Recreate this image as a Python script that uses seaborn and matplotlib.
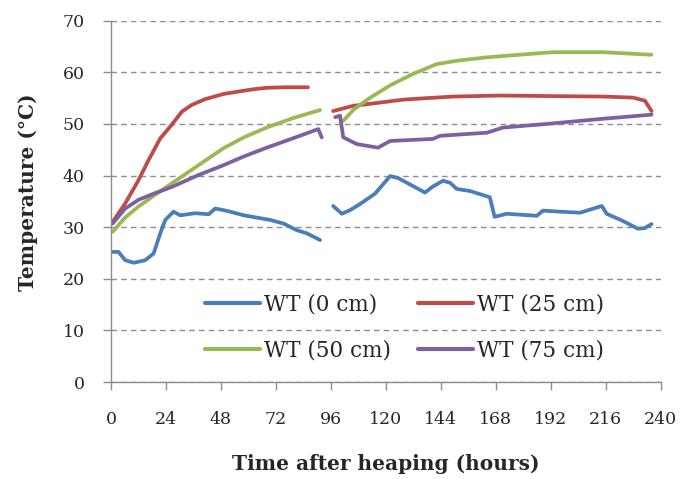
import matplotlib
matplotlib.use("Agg")
import matplotlib.pyplot as plt
import numpy as np
import pandas as pd
import seaborn as sns

# ---------------- data ----------------
series_names = ["WT (0 cm)", "WT (25 cm)", "WT (50 cm)", "WT (75 cm)"]
colors = ["#4A7EBB", "#BE4B48", "#98B954", "#7D60A0"]

# WT (0 cm)
wt0_h1 = [0.5, 3.3, 6.2, 9.9, 15, 18.6, 21.5, 23.7, 27.3, 30.2, 36.8, 42.6, 45.5, 49.1, 52, 57.9, 63, 69.5, 75.3, 81.2, 85.5, 91.3]
wt0_t1 = [25.2, 25.2, 23.6, 23.1, 23.6, 24.9, 28.8, 31.4, 33.0, 32.3, 32.7, 32.5, 33.6, 33.3, 33.0, 32.3, 31.9, 31.4, 30.7, 29.4, 28.8, 27.5]
wt0_h2 = [97, 100.8, 104.4, 108.8, 115.3, 121.9, 125.4, 129.2, 137.1, 140.6, 145, 148, 151, 156.8, 163.2, 165.4, 167.5, 172.8, 185.9, 188.6, 196, 204.8, 214.3, 216.4, 223.5, 230, 233, 236]
wt0_t2 = [34.1, 32.6, 33.3, 34.5, 36.5, 39.9, 39.5, 38.6, 36.7, 37.9, 39.0, 38.6, 37.4, 37.0, 36.1, 35.8, 32.0, 32.6, 32.2, 33.2, 33.0, 32.8, 34.1, 32.6, 31.2, 29.7, 29.8, 30.6]

# WT (25 cm)
wt25_h1 = [0.7, 6.2, 12, 16.4, 21.5, 25.9, 31, 35.3, 41.1, 49.1, 56, 62, 68, 76, 86]
wt25_t1 = [31.0, 34.6, 39.1, 43.0, 47.2, 49.5, 52.4, 53.7, 54.8, 55.8, 56.3, 56.7, 57.0, 57.1, 57.1]
wt25_h2 = [97, 105.7, 115, 127.5, 138, 149.4, 170, 190, 214.8, 227.9, 233.1, 236]
wt25_t2 = [52.5, 53.5, 54.0, 54.7, 55.0, 55.3, 55.5, 55.4, 55.3, 55.1, 54.5, 52.5]

# WT (50 cm)
wt50_h1 = [0.7, 6, 12, 19, 26.6, 38.2, 49.1, 58, 68, 80, 91.3]
wt50_t1 = [29.1, 31.8, 34.0, 36.2, 38.5, 42.0, 45.3, 47.4, 49.3, 51.2, 52.7]
wt50_h2 = [101.4, 106, 113.2, 122, 131.9, 142.3, 152, 164.1, 178, 193, 214.8, 236]
wt50_t2 = [50.6, 52.8, 55.1, 57.5, 59.7, 61.6, 62.3, 62.9, 63.4, 63.9, 63.9, 63.4]

# WT (75 cm)
wt75_h1 = [0.7, 6.2, 12, 19.3, 26.6, 38.2, 49.1, 58, 68, 80, 90.5, 92]
wt75_t1 = [30.7, 33.6, 35.3, 36.6, 37.8, 40.1, 42.0, 43.7, 45.4, 47.3, 49.0, 47.4]
wt75_h2 = [97.9, 100, 101.4, 107.3, 116.6, 121.9, 140.6, 143.7, 164.1, 171.2, 190.3, 214.8, 230.9, 236]
wt75_t2 = [51.3, 51.6, 47.4, 46.1, 45.4, 46.7, 47.1, 47.7, 48.3, 49.3, 50.0, 51.0, 51.6, 51.8]

x_ticks = list(range(0, 241, 24))
y_ticks = list(range(0, 71, 10))

segments = [
    (series_names[0], 1, wt0_h1, wt0_t1), (series_names[0], 2, wt0_h2, wt0_t2),
    (series_names[1], 1, wt25_h1, wt25_t1), (series_names[1], 2, wt25_h2, wt25_t2),
    (series_names[2], 1, wt50_h1, wt50_t1), (series_names[2], 2, wt50_h2, wt50_t2),
    (series_names[3], 1, wt75_h1, wt75_t1), (series_names[3], 2, wt75_h2, wt75_t2),
]
rows = []
for name, seg, hs, ts in segments:
    for h, t in zip(hs, ts):
        rows.append({"series": name, "segment": seg, "hours": h, "temp": t})
df = pd.DataFrame(rows)

# ---------------- plotting ----------------
sns.set_style("white")
plt.rcParams['font.family'] = ['DejaVu Serif', 'Liberation Serif']

fig = plt.figure(figsize=(6.84, 4.79), dpi=100)
ax = fig.add_axes([0.1623, 0.2025, 0.8036, 0.7543])

sns.lineplot(data=df, x="hours", y="temp", hue="series", hue_order=series_names,
             units="segment", estimator=None, sort=False,
             palette=colors, linewidth=2.7, ax=ax)

ax.set_xlim(0, 240)
ax.set_ylim(0, 70)
ax.set_xticks(x_ticks)
ax.set_yticks(y_ticks)

grey = "#8C8C8C"
ax.set_axisbelow(True)
ax.yaxis.grid(True, linestyle=(0, (4, 3)), color=grey, linewidth=1.0)
ax.xaxis.grid(False)
for s in ["top", "right"]:
    ax.spines[s].set_visible(False)
for s in ["left", "bottom"]:
    ax.spines[s].set_color(grey)
    ax.spines[s].set_linewidth(1.0)

ax.tick_params(axis="x", direction="out", length=6, color=grey, width=1,
               labelsize=12.5, pad=15, bottom=True)
ax.tick_params(axis="y", direction="out", length=6, color=grey, width=1,
               labelsize=12.5, pad=13, left=True)

ax.set_xlabel("Time after heaping (hours)", fontsize=14.5, fontweight="bold")
ax.set_ylabel("Temperature (°C)", fontsize=14.5, fontweight="bold")
ax.xaxis.set_label_coords(0.5, -0.20)
ax.yaxis.set_label_coords(-0.132, 0.525)

handles, labels = ax.get_legend_handles_labels()
for hdl in handles:
    hdl.set_linewidth(3.0)
order = [0, 2, 1, 3]
ax.legend([handles[i] for i in order], [labels[i] for i in order], ncol=2,
          loc="upper left", bbox_to_anchor=(0.171, 0.2436),
          frameon=False, handlelength=2.55, handletextpad=0.2, columnspacing=1.25,
          labelspacing=1.1, borderpad=0, borderaxespad=0, fontsize=15.5)

fig.savefig("out.png", dpi=100)
